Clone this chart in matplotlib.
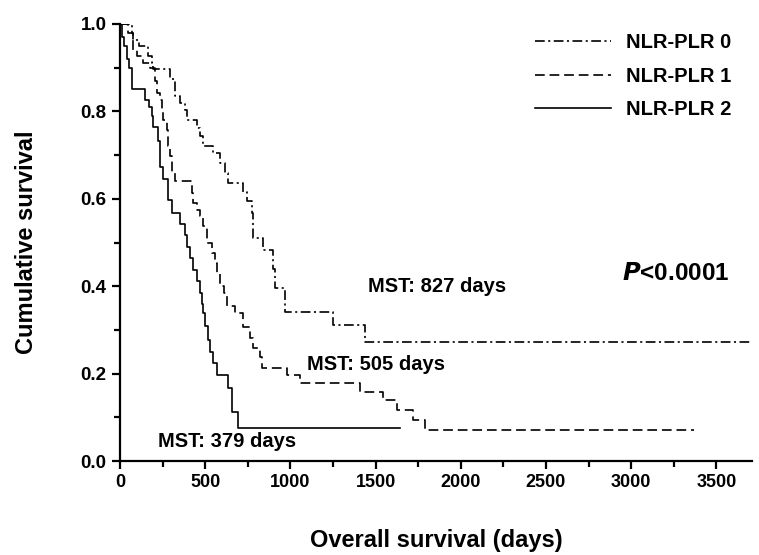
import matplotlib
matplotlib.use("Agg")
import matplotlib.pyplot as plt

plt.rcParams['font.family'] = ['Liberation Sans', 'DejaVu Sans']
plt.rcParams['font.weight'] = 'bold'
plt.rcParams['lines.scale_dashes'] = False

# Kaplan-Meier steps (day of drop, survival after drop)
days_g0 = [0, 69, 78, 114, 166, 186, 196, 294, 323, 352, 382, 392, 450, 470, 489,
           548, 587, 616, 636, 724, 744, 773, 783, 842, 900, 910, 969, 1252, 1438, 3700]
surv_g0 = [1.0, 0.98, 0.964, 0.949, 0.926, 0.911, 0.896, 0.873, 0.835, 0.819, 0.804, 0.781,
           0.762, 0.743, 0.72, 0.705, 0.682, 0.659, 0.636, 0.615, 0.594, 0.568, 0.51, 0.484,
           0.44, 0.395, 0.342, 0.312, 0.273, 0.273]

days_g1 = [0, 49, 78, 98, 137, 176, 205, 215, 235, 245, 254, 274, 284, 294, 303, 323,
           421, 431, 450, 470, 489, 509, 538, 558, 568, 587, 610, 626, 675, 724, 763,
           783, 822, 832, 979, 1057, 1409, 1546, 1625, 1722, 1791, 3370]
surv_g1 = [1.0, 0.98, 0.94, 0.926, 0.911, 0.90, 0.869, 0.842, 0.827, 0.80, 0.781, 0.758,
           0.72, 0.697, 0.66, 0.64, 0.613, 0.59, 0.575, 0.56, 0.537, 0.50, 0.476, 0.453,
           0.43, 0.40, 0.384, 0.354, 0.338, 0.308, 0.281, 0.258, 0.239, 0.212, 0.197,
           0.178, 0.159, 0.14, 0.117, 0.094, 0.071, 0.071]

days_g2 = [0, 10, 25, 40, 55, 69, 147, 172, 186, 196, 225, 235, 254, 284, 303, 352, 382,
           395, 411, 430, 450, 470, 480, 489, 500, 519, 530, 545, 568, 636, 656, 695, 1644]
surv_g2 = [1.0, 0.97, 0.95, 0.92, 0.90, 0.85, 0.827, 0.81, 0.79, 0.765, 0.733, 0.672,
           0.646, 0.597, 0.567, 0.543, 0.518, 0.49, 0.464, 0.4376, 0.411, 0.384, 0.36,
           0.338, 0.31, 0.277, 0.25, 0.224, 0.197, 0.1665, 0.113, 0.075, 0.075]

labels = ["NLR-PLR 0", "NLR-PLR 1", "NLR-PLR 2"]

fig = plt.figure(figsize=(7.59, 5.55), dpi=100)
ax = fig.add_axes([0.158, 0.169, 0.833, 0.788])

ax.step(days_g0, surv_g0, where='post', color='black', lw=1.2,
        dashes=[7, 2.5, 1.5, 2.5], label=labels[0])
ax.step(days_g1, surv_g1, where='post', color='black', lw=1.2,
        dashes=[7, 3.5], label=labels[1])
ax.step(days_g2, surv_g2, where='post', color='black', lw=1.2,
        label=labels[2])

ax.set_xlim(0, 3710)
ax.set_ylim(0, 1.0)
ax.set_xticks(range(0, 3501, 500))
ax.set_xticks(range(250, 3710, 500), minor=True)
ax.set_yticks([0.0, 0.2, 0.4, 0.6, 0.8, 1.0])
ax.set_yticks([0.1, 0.3, 0.5, 0.7, 0.9], minor=True)
ax.yaxis.set_major_formatter(matplotlib.ticker.FormatStrFormatter('%.1f'))

for s in ['top', 'right']:
    ax.spines[s].set_visible(False)
for s in ['left', 'bottom']:
    ax.spines[s].set_linewidth(1.6)
ax.tick_params(which='major', direction='out', length=6, width=1.6, labelsize=13)
ax.tick_params(axis='y', which='major', labelsize=13.5)
ax.tick_params(which='minor', direction='out', length=4, width=1.6)

ax.set_xlabel("Overall survival (days)", fontsize=17, fontweight='bold', labelpad=27)
ax.set_ylabel("Cumulative survival", fontsize=17, fontweight='bold', labelpad=31)

ax.text(1861, 0.40, "MST: 827 days", fontsize=14.5, fontweight='bold', ha='center', va='center')
ax.text(1503, 0.222, "MST: 505 days", fontsize=14.5, fontweight='bold', ha='center', va='center')
ax.text(628, 0.044, "MST: 379 days", fontsize=14.5, fontweight='bold', ha='center', va='center')
ax.text(3259, 0.43, "$\\mathbfit{P}$<0.0001", fontsize=17.5, fontweight='bold', ha='center', va='center')

leg = ax.legend(loc='upper right', bbox_to_anchor=(0.995, 1.02), frameon=False,
                fontsize=14.5, handlelength=3.8, handletextpad=0.7, labelspacing=0.72)

fig.savefig("out.png", dpi=100)
